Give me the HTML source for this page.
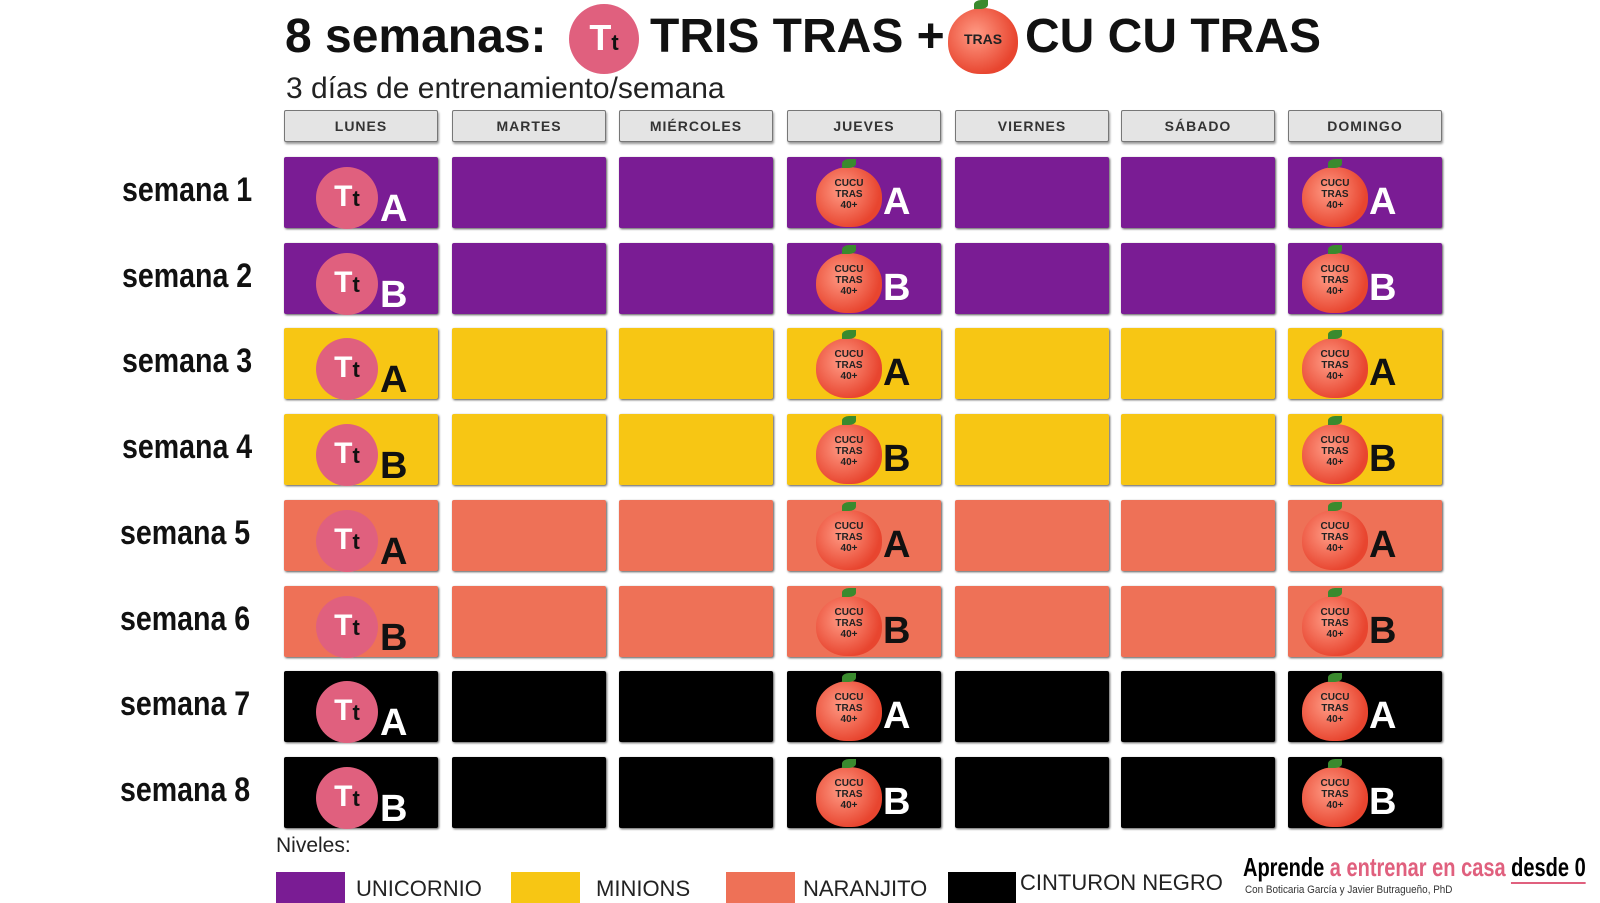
<!DOCTYPE html>
<html><head><meta charset="utf-8"><style>
body{margin:0;width:1600px;height:900px;background:#fff;position:relative;overflow:hidden;font-family:"Liberation Sans",sans-serif}
.a{position:absolute}
.T{position:absolute;top:9px;font-size:48px;font-weight:bold;color:#111;white-space:nowrap}
.hd{position:absolute;top:110px;width:152px;height:30px;background:#e4e4e4;border:1px solid #777;border-radius:2px;box-shadow:1px 2px 2px #999;font-weight:bold;font-size:14px;letter-spacing:1px;color:#333;text-align:center;line-height:30px}
.c{position:absolute;width:154px;height:71px;border-radius:2px;box-shadow:1px 1px 2px #555}
.lbl{position:absolute;white-space:nowrap;font-weight:bold;font-size:34px;color:#111;transform:scaleX(.84);transform-origin:left}
.tt{position:absolute;width:62px;height:62px;border-radius:50%;background:#e0607e;color:#fff;font-weight:bold;font-size:30px;line-height:60px;text-align:center}
.tt span{color:#111;font-size:22px}
.pc{position:absolute;width:66px;height:60px;border-radius:50% 50% 46% 46%;background:radial-gradient(circle at 40% 40%,#ff9b85,#e8452f 70%);color:#222;font-size:10px;font-weight:bold;text-align:center;line-height:11px}
.pc:before{content:"";position:absolute;left:26px;top:-8px;width:14px;height:9px;background:#3a8a2e;border-radius:50% 0}
.L{position:absolute;font-weight:bold;font-size:38px}
</style></head><body>
<div class="T" style="left:285px">8 semanas:</div>
<div class="tt" style="left:569px;top:4px;width:70px;height:70px;line-height:68px;font-size:36px">T<span>t</span></div>
<div class="T" style="left:650px">TRIS TRAS +</div>
<div class="pc" style="left:948px;top:8px;width:70px;height:66px;line-height:62px;font-size:14px">TRAS</div>
<div class="T" style="left:1025px">CU CU TRAS</div>
<div class="a" style="left:286px;top:72px;font-size:30px;color:#222">3 días de entrenamiento/semana</div>
<div id="g"></div>
<div class="a" style="left:276px;top:834px;font-size:21px;color:#222">Niveles:</div>
<div class="a" style="left:276px;top:872px;width:69px;height:31px;background:#7a1c94"></div>
<div class="a" style="left:356px;top:876px;font-size:22px;color:#222">UNICORNIO</div>
<div class="a" style="left:511px;top:872px;width:69px;height:31px;background:#f7c614"></div>
<div class="a" style="left:596px;top:876px;font-size:22px;color:#222">MINIONS</div>
<div class="a" style="left:726px;top:872px;width:69px;height:31px;background:#ee7157"></div>
<div class="a" style="left:803px;top:876px;font-size:22px;color:#222">NARANJITO</div>
<div class="a" style="left:948px;top:872px;width:68px;height:31px;background:#000"></div>
<div class="a" style="left:1020px;top:870px;font-size:22px;color:#222">CINTURON NEGRO</div>
<div class="a" style="left:1243px;top:852px;font-weight:bold;font-size:26px;white-space:nowrap;transform:scaleX(.77);transform-origin:left">Aprende <span style="color:#e0607e">a entrenar en casa</span> <span style="border-bottom:2px solid #e0607e">desde 0</span></div>
<div class="a" style="left:1245px;top:884px;font-size:11px;color:#333;transform:scaleX(.9);transform-origin:left;white-space:nowrap">Con Boticaria García y Javier Butragueño, PhD</div>
<script>
var X=[284,452,619,787,955,1121,1288],D=["LUNES","MARTES","MIÉRCOLES","JUEVES","VIERNES","SÁBADO","DOMINGO"],
C=["#7a1c94","#7a1c94","#f7c614","#f7c614","#ee7157","#ee7157","#000","#000"],h="";
for(var j=0;j<7;j++)h+='<div class="hd" style="left:'+X[j]+'px">'+D[j]+'</div>';
for(var i=0;i<8;i++){var y=157+i*85.7,L=i%2?"B":"A",col=(i>=2&&i<=5)?"#111":"#fff";
h+='<div class="lbl" style="left:'+(i<4?122:120)+'px;top:'+(y+14)+'px">semana '+(i+1)+'</div>';
for(j=0;j<7;j++){h+='<div class="c" style="left:'+X[j]+'px;top:'+y+'px;background:'+C[i]+'"></div>';}
h+='<div class="tt" style="left:'+(X[0]+32)+'px;top:'+(y+10)+'px">T<span>t</span></div><div class="L" style="left:'+(X[0]+96)+'px;top:'+(y+31)+'px;color:'+col+'">'+L+'</div>';
[[3,29,96],[6,14,81]].forEach(function(p){var k=p[0];h+='<div class="pc" style="left:'+(X[k]+p[1])+'px;top:'+(y+10)+'px"><br>CUCU<br>TRAS<br>40+</div><div class="L" style="left:'+(X[k]+p[2])+'px;top:'+(y+24)+'px;color:'+col+'">'+L+'</div>';});}
document.getElementById("g").innerHTML=h;
</script>
</body></html>
